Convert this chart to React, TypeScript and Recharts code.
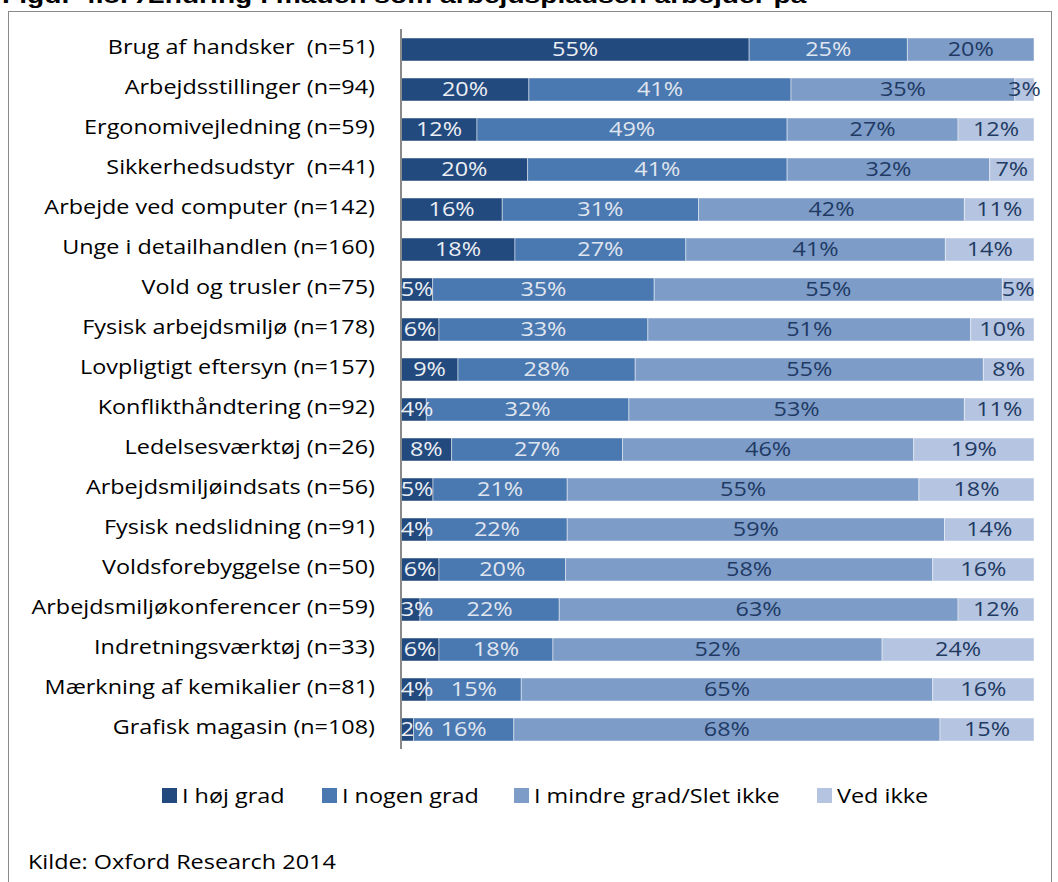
import { BarChart, Bar, XAxis, YAxis, LabelList } from 'recharts';

const categories = [
  'Brug af handsker  (n=51)',
  'Arbejdsstillinger (n=94)',
  'Ergonomivejledning (n=59)',
  'Sikkerhedsudstyr  (n=41)',
  'Arbejde ved computer (n=142)',
  'Unge i detailhandlen (n=160)',
  'Vold og trusler (n=75)',
  'Fysisk arbejdsmiljø (n=178)',
  'Lovpligtigt eftersyn (n=157)',
  'Konflikthåndtering (n=92)',
  'Ledelsesværktøj (n=26)',
  'Arbejdsmiljøindsats (n=56)',
  'Fysisk nedslidning (n=91)',
  'Voldsforebyggelse (n=50)',
  'Arbejdsmiljøkonferencer (n=59)',
  'Indretningsværktøj (n=33)',
  'Mærkning af kemikalier (n=81)',
  'Grafisk magasin (n=108)',
];

const hoejGrad = [55, 20, 12, 20, 16, 18, 5, 6, 9, 4, 8, 5, 4, 6, 3, 6, 4, 2];
const nogenGrad = [25, 41, 49, 41, 31, 27, 35, 33, 28, 32, 27, 21, 22, 20, 22, 18, 15, 16];
const mindreGrad = [20, 35, 27, 32, 42, 41, 55, 51, 55, 53, 46, 55, 59, 58, 63, 52, 65, 68];
const vedIkke = [0, 3, 12, 7, 11, 14, 5, 10, 8, 11, 19, 18, 14, 16, 12, 24, 16, 15];

const seriesNames = ['I høj grad', 'I nogen grad', 'I mindre grad/Slet ikke', 'Ved ikke'];
const seriesValues = [hoejGrad, nogenGrad, mindreGrad, vedIkke];
const COLORS = ['#234a7e', '#4a78b0', '#7d9cc8', '#b5c4e0'];
const LABEL_COLORS = ['#eceff4', '#e0e6ef', '#1f3a63', '#1f3a63'];
// legend item left edges, px
const LEGEND_X = [162, 322, 514, 817];

const data = categories.map((name, i) => {
  const row: Record<string, any> = { name };
  seriesValues.forEach((vals, s) => {
    row[`s${s}`] = vals[i];
  });
  return row;
});

// the source is a Calibri chart stretched sideways; Open Sans + scaleX gets close
const FONT = '"Open Sans", Lato, sans-serif';
const STRETCH = 1.17;

function makeLabel(s: number) {
  return (props: any) => {
    const { x, y, width, height, value } = props;
    if (!value) return null;
    let cx = Number(x) + Number(width) / 2;
    // keep the tiny first-segment labels clear of the axis line, like Excel does
    if (s === 0) cx = Math.max(cx, Number(x) + 16);
    const cy = Number(y) + Number(height) / 2 + 1;
    return (
      <text
        transform={`translate(${cx},${cy}) scale(${STRETCH},1)`}
        textAnchor="middle"
        dominantBaseline="middle"
        fill={LABEL_COLORS[s]}
        style={{ fontSize: 20, fontFamily: FONT }}
      >
        {value}%
      </text>
    );
  };
}

const stretched = { display: 'inline-block', transform: `scaleX(${STRETCH})`, transformOrigin: 'left center' };

export default function App() {
  return (
    <div style={{ position: 'absolute', left: 0, top: 0, width: 1058, height: 882, overflow: 'hidden', background: '#fff' }}>
      <div
        style={{
          position: 'absolute', left: 2, top: -15, fontSize: 22, lineHeight: '22px',
          fontWeight: 700, fontFamily: '"Liberation Sans", Arial, sans-serif', whiteSpace: 'nowrap', color: '#000',
          transform: 'scaleX(1.28)', transformOrigin: 'left top',
        }}
      >
        Figur 4.8: Ændring i måden som arbejdspladsen arbejder på
      </div>
      <div style={{ position: 'absolute', left: 8, top: 11, width: 1044, height: 900, border: '1px solid #8a8a8a', boxSizing: 'border-box' }} />
      <div style={{ position: 'absolute', left: 0, top: 0 }}>
        <BarChart
          width={1058}
          height={882}
          data={data}
          layout="vertical"
          stackOffset="expand"
          margin={{ top: 29, right: 24, bottom: 133, left: 0 }}
        >
          <XAxis type="number" domain={[0, 1]} hide />
          <YAxis
            type="category"
            dataKey="name"
            width={401}
            axisLine={{ stroke: '#8a8a8a', strokeWidth: 2 }}
            tickLine={false}
            interval={0}
            tick={(p: any) => (
              <text
                transform={`translate(375,${p.y}) scale(${STRETCH},1)`}
                textAnchor="end"
                dominantBaseline="middle"
                fill="#000"
                style={{ fontSize: 20, fontFamily: FONT, whiteSpace: 'pre' }}
              >
                {p.payload.value}
              </text>
            )}
          />
          {seriesNames.map((n, s) => (
            <Bar
              key={n}
              dataKey={`s${s}`}
              name={n}
              stackId="a"
              fill={COLORS[s]}
              stroke="#ffffff"
              strokeOpacity={0.45}
              strokeWidth={1}
              barSize={23}
              isAnimationActive={false}
            >
              <LabelList dataKey={`s${s}`} content={makeLabel(s)} />
            </Bar>
          ))}
        </BarChart>
      </div>
      {seriesNames.map((n, s) => (
        <div
          key={n}
          style={{
            position: 'absolute', left: LEGEND_X[s], top: 782, display: 'flex', alignItems: 'center',
            fontFamily: FONT, fontSize: 20, color: '#000', whiteSpace: 'nowrap',
          }}
        >
          <span style={{ display: 'inline-block', width: 15, height: 15, background: COLORS[s], marginRight: 5 }} />
          <span style={stretched}>{n}</span>
        </div>
      ))}
      <div style={{ position: 'absolute', left: 28, top: 848, fontFamily: FONT, fontSize: 20, color: '#000', ...stretched, transformOrigin: 'left top' }}>
        Kilde: Oxford Research 2014
      </div>
    </div>
  );
}
